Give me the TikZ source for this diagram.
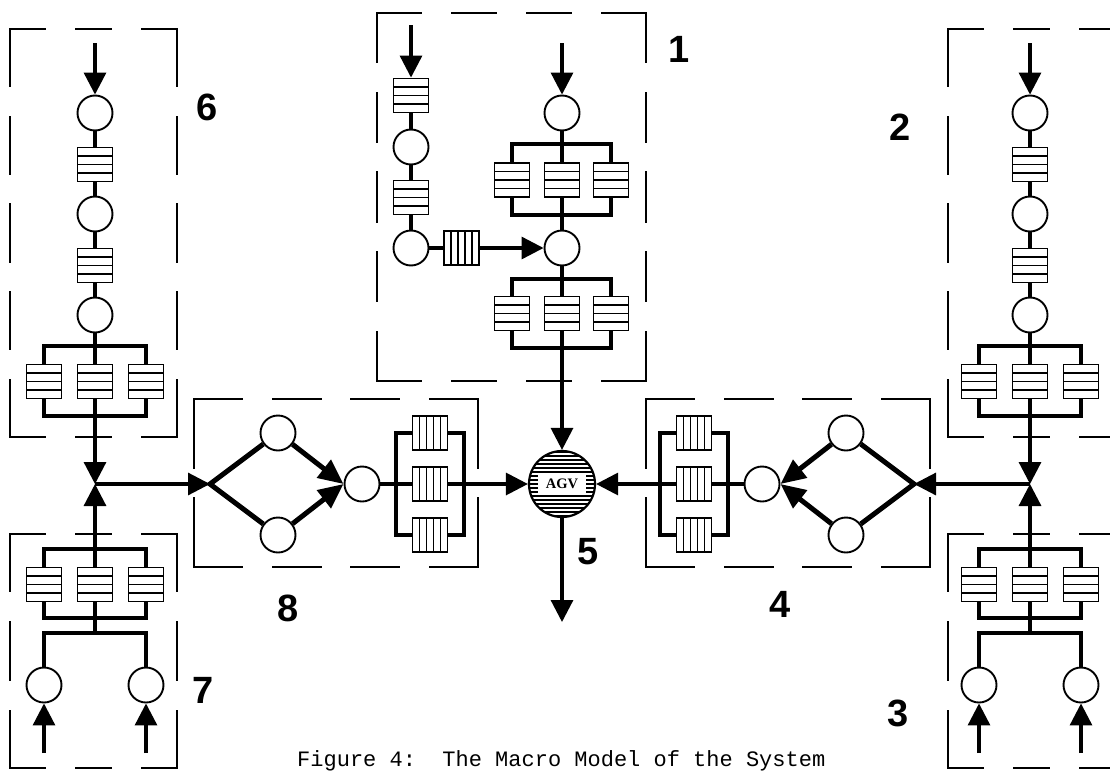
\documentclass[tikz,border=0pt]{standalone}
\usepackage{fontspec}
\setmainfont{Liberation Serif}
\newfontfamily\lblfont{Liberation Sans}
\newfontfamily\capfont{Liberation Mono}
\usetikzlibrary{arrows.meta,calc}
\newcommand\dside[5]{%
  \pgfmathsetmacro\dL{abs(#3-#1)+abs(#4-#2)}%
  \pgfmathsetmacro\dD{(\dL-(#5-1)*31)/#5}%
  \draw[dboxline, dash pattern=on \dD pt off 31pt] (#1,#2) -- (#3,#4);%
}
\newcommand\dbox[6]{%
  \dside{#1}{#2}{#3}{#2}{#5}%
  \dside{#1}{#4}{#3}{#4}{#5}%
  \dside{#1}{#2}{#1}{#4}{#6}%
  \dside{#3}{#2}{#3}{#4}{#6}%
}
\tikzset{
 circ/.style={circle, draw, line width=1.9pt, minimum size=35pt, inner sep=0pt, fill=white},
 hq/.style={rectangle, draw, line width=1.9pt, minimum width=35pt, minimum height=34pt, inner sep=0pt, fill=white,
   path picture={\foreach \i in {1,2,3}{\draw[line width=1.5pt] ($(path picture bounding box.south west)!\i/4!(path picture bounding box.north west)$) -- ($(path picture bounding box.south east)!\i/4!(path picture bounding box.north east)$);}}},
 vq/.style={rectangle, draw, line width=1.9pt, minimum width=35pt, minimum height=34pt, inner sep=0pt, fill=white,
   path picture={\foreach \i in {1,2,3,4}{\draw[line width=1.5pt] ($(path picture bounding box.south west)!\i/5!(path picture bounding box.south east)$) -- ($(path picture bounding box.north west)!\i/5!(path picture bounding box.north east)$);}}},
 conn/.style={line width=3.2pt},
 brk/.style={line width=4pt},
 arr/.style={line width=3.2pt, -{Triangle[length=22pt,width=22pt]}},
 diag/.style={line width=5pt},
 darr/.style={line width=5pt, -{Triangle[length=25pt,width=22pt]}},
 dboxline/.style={line width=2.3pt, line cap=rect},
 lbl/.style={font=\lblfont\bfseries\fontsize{38}{40}\selectfont, inner sep=0pt},
 agv/.style={circle, draw, line width=2.2pt, minimum size=66pt, inner sep=0pt, font=\bfseries\fontsize{14.5}{15}\selectfont,
   path picture={\foreach \k in {-8,...,8}{\draw[line width=1.5pt] ([yshift=\k*4pt]path picture bounding box.west) -- ([yshift=\k*4pt]path picture bounding box.east);}
     \fill[white] ([xshift=-24pt,yshift=-9.5pt]path picture bounding box.center) rectangle ([xshift=24pt,yshift=9.5pt]path picture bounding box.center);}},
}
\begin{document}
\begin{tikzpicture}[x=1pt,y=-1pt]
\useasboundingbox (0,0) rectangle (1110,771);
\clip (0,0) rectangle (1110,771);
\fill[white] (0,0) rectangle (1110,771);

% dashed boxes
\dbox{377}{13}{646}{381}{4}{5}
\dbox{10}{29}{177}{437}{3}{5}
\dbox{948}{29}{1115}{437}{3}{5}
\dbox{10}{534}{177}{768}{3}{3}
\dbox{948}{534}{1115}{768}{3}{3}
\dbox{194}{399}{478}{567}{4}{2}
\dbox{646}{399}{930}{567}{4}{2}

% ---------- box 1 ----------
\coordinate (in1L) at (411,25);
\node[hq] (qL1) at (411,95.5) {};
\node[circ] (cL1) at (411,147) {};
\node[hq] (qL2) at (411,197.5) {};
\node[circ] (cL2) at (411,248) {};
\node[vq] (vq1) at (461.5,248) {};
\coordinate (in1R) at (562,43);
\node[circ] (cR1) at (562,113) {};
\node[hq] (qR1l) at (512,180) {};
\node[hq] (qR1m) at (562,180) {};
\node[hq] (qR1r) at (611,180) {};
\node[circ] (cR2) at (562,248) {};
\node[hq] (qR2l) at (512,313.5) {};
\node[hq] (qR2m) at (562,313.5) {};
\node[hq] (qR2r) at (611,313.5) {};
\draw[arr] (in1L) -- (qL1);
\draw[conn] (qL1) -- (cL1);
\draw[conn] (cL1) -- (qL2);
\draw[conn] (qL2) -- (cL2);
\draw[conn] (cL2) -- (vq1);
\draw[arr] (vq1) -- (cR2);
\draw[arr] (in1R) -- (cR1);
\draw[conn] (cR1) -- (qR1m);
\draw[brk] (qR1l.north) -- ++(0,-18) -| (qR1r.north);
\draw[brk] (qR1l.south) -- ++(0,17) -| (qR1r.south);
\draw[conn] (qR1m) -- (cR2);
\draw[conn] (cR2) -- (qR2m);
\draw[brk] (qR2l.north) -- ++(0,-17) -| (qR2r.north);
\draw[brk] (qR2l.south) -- ++(0,17) -| (qR2r.south);

% ---------- AGV (5) ----------
\node[agv] (agv) at (562,484) {AGV};
\coordinate (out5) at (562,622);
\draw[arr] (qR2m) -- (agv);
\draw[arr] (agv) -- (out5);

% ---------- box 6 ----------
\coordinate (in6) at (95,43);
\node[circ] (c6a) at (95,113) {};
\node[hq] (q6a) at (95,164.5) {};
\node[circ] (c6b) at (95,214) {};
\node[hq] (q6b) at (95,265.5) {};
\node[circ] (c6c) at (95,315) {};
\node[hq] (q6l) at (44,381.5) {};
\node[hq] (q6m) at (95,381.5) {};
\node[hq] (q6r) at (146,381.5) {};
\coordinate (J6) at (95,484);
\draw[arr] (in6) -- (c6a);
\draw[conn] (c6a) -- (q6a);
\draw[conn] (q6a) -- (c6b);
\draw[conn] (c6b) -- (q6b);
\draw[conn] (q6b) -- (c6c);
\draw[conn] (c6c) -- (q6m);
\draw[brk] (q6l.north) -- ++(0,-17.5) -| (q6r.north);
\draw[brk] (q6l.south) -- ++(0,16.5) -| (q6r.south);
\draw[arr] (q6m) -- (J6);

% ---------- box 7 ----------
\node[hq] (q7l) at (44,584.5) {};
\node[hq] (q7m) at (95,584.5) {};
\node[hq] (q7r) at (146,584.5) {};
\coordinate (h7) at (95,633);
\node[circ] (c7a) at (44,685) {};
\node[circ] (c7b) at (146,685) {};
\coordinate (s7a) at (44,753);
\coordinate (s7b) at (146,753);
\draw[arr] (q7m) -- (J6);
\draw[brk] (q7l.north) -- ++(0,-17.5) -| (q7r.north);
\draw[brk] (q7l.south) -- ++(0,16) -| (q7r.south);
\draw[conn] (q7m) -- (h7);
\draw[conn] (c7a.north) |- (h7) -| (c7b.north);
\draw[arr] (s7a) -- (c7a);
\draw[arr] (s7b) -- (c7b);

% ---------- box 2 ----------
\coordinate (in2) at (1030,43);
\node[circ] (c2a) at (1030,113) {};
\node[hq] (q2a) at (1030,164.5) {};
\node[circ] (c2b) at (1030,214) {};
\node[hq] (q2b) at (1030,265.5) {};
\node[circ] (c2c) at (1030,315) {};
\node[hq] (q2l) at (979,381.5) {};
\node[hq] (q2m) at (1030,381.5) {};
\node[hq] (q2r) at (1081,381.5) {};
\coordinate (J2) at (1030,484);
\draw[arr] (in2) -- (c2a);
\draw[conn] (c2a) -- (q2a);
\draw[conn] (q2a) -- (c2b);
\draw[conn] (c2b) -- (q2b);
\draw[conn] (q2b) -- (c2c);
\draw[conn] (c2c) -- (q2m);
\draw[brk] (q2l.north) -- ++(0,-17.5) -| (q2r.north);
\draw[brk] (q2l.south) -- ++(0,16.5) -| (q2r.south);
\draw[arr] (q2m) -- (J2);

% ---------- box 3 ----------
\node[hq] (q3l) at (979,584.5) {};
\node[hq] (q3m) at (1030,584.5) {};
\node[hq] (q3r) at (1081,584.5) {};
\coordinate (h3) at (1030,633);
\node[circ] (c3a) at (979,685) {};
\node[circ] (c3b) at (1081,685) {};
\coordinate (s3a) at (979,753);
\coordinate (s3b) at (1081,753);
\draw[arr] (q3m) -- (J2);
\draw[brk] (q3l.north) -- ++(0,-17.5) -| (q3r.north);
\draw[brk] (q3l.south) -- ++(0,16) -| (q3r.south);
\draw[conn] (q3m) -- (h3);
\draw[conn] (c3a.north) |- (h3) -| (c3b.north);
\draw[arr] (s3a) -- (c3a);
\draw[arr] (s3b) -- (c3b);

% ---------- box 8 ----------
\coordinate (S8) at (210,484);
\node[circ] (c8u) at (278,433) {};
\node[circ] (c8d) at (278,535) {};
\node[circ] (m8) at (362,484) {};
\node[vq] (v8a) at (430,433) {};
\node[vq] (v8b) at (430,484) {};
\node[vq] (v8c) at (430,535) {};
\draw[arr] (J6) -- (S8);
\draw[diag] (c8u) -- (S8) -- (c8d);
\draw[darr] (c8u) -- (m8.west);
\draw[darr] (c8d) -- (m8.west);
\draw[conn] (m8) -- (v8b);
\draw[brk] (v8a.west) -- ++(-16,0) |- (v8c.west);
\draw[brk] (v8a.east) -- ++(16,0) |- (v8c.east);
\draw[arr] (v8b) -- (agv);

% ---------- box 4 ----------
\coordinate (S4) at (914,484);
\node[circ] (c4u) at (846,433) {};
\node[circ] (c4d) at (846,535) {};
\node[circ] (m4) at (762,484) {};
\node[vq] (v4a) at (694,433) {};
\node[vq] (v4b) at (694,484) {};
\node[vq] (v4c) at (694,535) {};
\draw[arr] (J2) -- (S4);
\draw[diag] (c4u) -- (S4) -- (c4d);
\draw[darr] (c4u) -- (m4.east);
\draw[darr] (c4d) -- (m4.east);
\draw[conn] (m4) -- (v4b);
\draw[brk] (v4a.west) -- ++(-16,0) |- (v4c.west);
\draw[brk] (v4a.east) -- ++(16,0) |- (v4c.east);
\draw[arr] (v4b) -- (agv);

% ---------- labels ----------
\node[lbl] (l1) at (679,49) {1};
\node[lbl] (l2) at (900,127) {2};
\node[lbl] (l3) at (898,713) {3};
\node[lbl] (l4) at (780,604) {4};
\node[lbl] (l5) at (588,552) {5};
\node[lbl] (l6) at (207,107) {6};
\node[lbl] (l7) at (203,690) {7};
\node[lbl] (l8) at (288,608) {8};

% caption at the bottom edge
\node[anchor=base west, inner sep=0pt, font=\capfont\fontsize{22}{24}\selectfont] (cap) at (297,766) {Figure 4:\ \ The Macro Model of the System};
\end{tikzpicture}
\end{document}
